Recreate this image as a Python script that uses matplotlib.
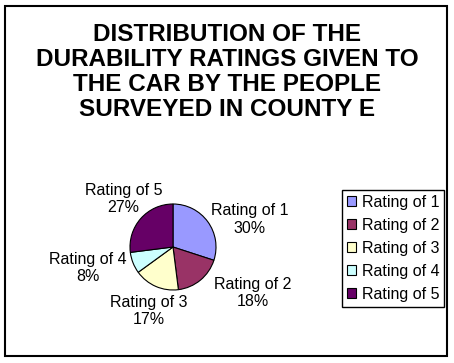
import matplotlib
matplotlib.use("Agg")
import matplotlib.pyplot as plt
from matplotlib.patches import Rectangle, Patch

plt.rcParams['font.family'] = ['Liberation Sans', 'DejaVu Sans']

labels = ["Rating of 1", "Rating of 2", "Rating of 3", "Rating of 4", "Rating of 5"]
shares = [30, 18, 17, 8, 27]
colors = ["#9999FF", "#993366", "#FFFFCC", "#CCFFFF", "#660066"]
title = "DISTRIBUTION OF THE\nDURABILITY RATINGS GIVEN TO\nTHE CAR BY THE PEOPLE\nSURVEYED IN COUNTY E"

# label anchor spots, in pie radii from the centre
label_pos = [(1.78, 0.64), (1.85, -1.07), (-0.57, -1.49), (-1.97, -0.49), (-1.15, 1.12)]

W, H = 454, 363
fig = plt.figure(figsize=(W / 100, H / 100), dpi=100)

def px(x0, y0, x1, y1):
    return [x0 / W, 1 - y1 / H, (x1 - x0) / W, (y1 - y0) / H]

# outer frame
fig.patches.append(Rectangle((5 / W, 1 - 356 / H), 442 / W, 350 / H, transform=fig.transFigure,
                             fill=False, edgecolor="black", linewidth=1.5))

fig.text(227 / W, 1 - 72 / H, title, ha="center", va="center", fontsize=17.5,
         fontweight="bold", linespacing=1.1)

ax = fig.add_axes(px(130, 204, 216, 290))
wedges, _ = ax.pie(shares, colors=colors, startangle=90, counterclock=False,
                   wedgeprops=dict(edgecolor="black", linewidth=0.8))
ax.set_xlim(-1, 1)
ax.set_ylim(-1, 1)
ax.set_aspect("equal")
ax.axis("off")

for lab, v, (x, y) in zip(labels, shares, label_pos):
    ax.text(x, y, f"{lab}\n{v}%", ha="center", va="center", fontsize=11.5,
            linespacing=1.2, clip_on=False)

handles = [Patch(facecolor=c, edgecolor="black", linewidth=0.8) for c in colors]
leg = fig.legend(handles, labels, loc="upper left", bbox_to_anchor=(342 / W, 1 - 190 / H),
                 fontsize=11.5, handlelength=0.55, handleheight=0.55, handletextpad=0.4,
                 labelspacing=0.5, borderpad=0.3, borderaxespad=0, fancybox=False,
                 framealpha=1)
leg.get_frame().set_edgecolor("black")
leg.get_frame().set_linewidth(1.0)

fig.savefig("out.png", dpi=100)
